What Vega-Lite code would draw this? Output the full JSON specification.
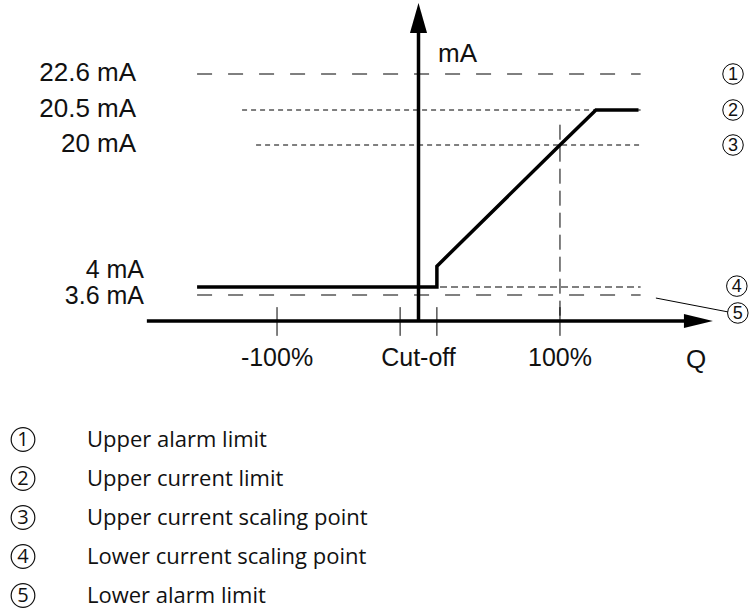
{
  "$schema": "https://vega.github.io/schema/vega-lite/v6.json",
  "padding": 0,
  "spacing": 0,
  "background": "white",
  "config": {
    "view": {"stroke": null},
    "axis": {"disable": true},
    "concat": {"spacing": 0},
    "text": {"font": "Liberation Sans", "color": "#111111"}
  },
  "datasets": {
    "limits": [
      {"n": 1, "label": "22.6 mA", "ma": 22.6, "from": -156.5, "to": 157, "name": "Upper alarm limit"},
      {"n": 2, "label": "20.5 mA", "ma": 20.5, "from": -124.7, "to": 157, "name": "Upper current limit"},
      {"n": 3, "label": "20 mA", "ma": 20, "from": -114.8, "to": 157, "name": "Upper current scaling point"},
      {"n": 4, "label": "4 mA", "ma": 4, "from": 15.2, "to": 157, "name": "Lower current scaling point"},
      {"n": 5, "label": "3.6 mA", "ma": 3.6, "from": -156.5, "to": 157, "name": "Lower alarm limit"}
    ],
    "curve": [
      {"i": 1, "q": -156.5, "ma": 4},
      {"i": 2, "q": 13, "ma": 4},
      {"i": 3, "q": 13, "ma": 6.35},
      {"i": 4, "q": 100, "ma": 20},
      {"i": 5, "q": 125.4, "ma": 20.5},
      {"i": 6, "q": 155.5, "ma": 20.5}
    ],
    "axes": [
      {"axis": "mA", "q0": 0, "m0": 3, "q1": 0, "m1": 24, "tipq": 0, "tipm": 25, "tq": 13.8, "tm": 23.29},
      {"axis": "Q", "q0": -192, "m0": 3, "q1": 189, "m1": 3, "tipq": 208.1, "tipm": 3, "tq": 189, "tm": 1.82}
    ],
    "ticks": [{"q": -100}, {"q": -13}, {"q": 13}, {"q": 100}],
    "ticklabels": [
      {"q": -100, "label": "-100%"},
      {"q": 0, "label": "Cut-off"},
      {"q": 100, "label": "100%"}
    ]
  },
  "vconcat": [
    {
      "width": 749,
      "height": 420,
      "layer": [
        {
          "data": {"name": "limits"},
          "transform": [{"filter": "datum.n == 1"}],
          "mark": {"type": "rule", "color": "black", "strokeWidth": 1, "strokeDash": [15, 16]},
          "encoding": {
            "x": {"field": "from", "type": "quantitative", "scale": {"domain": [-295.8, 233.6], "nice": false, "zero": false}},
            "x2": {"field": "to"},
            "y": {"field": "ma", "type": "quantitative", "scale": {"domain": [0, 3, 3.6, 4, 20, 20.5, 22.6, 25], "range": [420, 321, 295, 287, 145, 110, 74, 3], "nice": false, "zero": false}}
          }
        },
        {
          "data": {"name": "limits"},
          "transform": [{"filter": "datum.n == 2 || datum.n == 3"}],
          "mark": {"type": "rule", "color": "black", "strokeWidth": 1, "strokeDash": [5, 4]},
          "encoding": {
            "x": {"field": "from", "type": "quantitative"},
            "x2": {"field": "to"},
            "y": {"field": "ma", "type": "quantitative"}
          }
        },
        {
          "data": {"name": "limits"},
          "transform": [{"filter": "datum.n == 4"}],
          "mark": {"type": "rule", "color": "#808080", "strokeWidth": 2, "strokeDash": [7, 4]},
          "encoding": {
            "x": {"field": "from", "type": "quantitative"},
            "x2": {"field": "to"},
            "y": {"field": "ma", "type": "quantitative"}
          }
        },
        {
          "data": {"name": "limits"},
          "transform": [{"filter": "datum.n == 5"}],
          "mark": {"type": "rule", "color": "#808080", "strokeWidth": 2, "strokeDash": [15, 16]},
          "encoding": {
            "x": {"field": "from", "type": "quantitative"},
            "x2": {"field": "to"},
            "y": {"field": "ma", "type": "quantitative"}
          }
        },
        {
          "data": {"name": "ticks"},
          "transform": [{"filter": "datum.q == 100"}],
          "mark": {"type": "rule", "color": "black", "strokeWidth": 1, "strokeDash": [15, 7]},
          "encoding": {
            "x": {"field": "q", "type": "quantitative"},
            "y": {"datum": 20.29, "type": "quantitative"},
            "y2": {"datum": 3}
          }
        },
        {
          "data": {"name": "ticks"},
          "mark": {"type": "rule", "color": "black", "strokeWidth": 1},
          "encoding": {
            "x": {"field": "q", "type": "quantitative"},
            "y": {"datum": 3.32, "type": "quantitative"},
            "y2": {"datum": 2.55}
          }
        },
        {
          "data": {"name": "curve"},
          "mark": {"type": "line", "color": "black", "strokeWidth": 3.5, "strokeJoin": "miter", "strokeCap": "butt"},
          "encoding": {
            "x": {"field": "q", "type": "quantitative"},
            "y": {"field": "ma", "type": "quantitative"},
            "order": {"field": "i", "type": "quantitative"}
          }
        },
        {
          "data": {"name": "axes"},
          "mark": {"type": "rule", "color": "black", "strokeWidth": 3.5},
          "encoding": {
            "x": {"field": "q0", "type": "quantitative"},
            "x2": {"field": "q1"},
            "y": {"field": "m0", "type": "quantitative"},
            "y2": {"field": "m1"}
          }
        },
        {
          "data": {"name": "axes"},
          "transform": [{"filter": "datum.axis == 'mA'"}],
          "mark": {"type": "point", "shape": "M0,0L0.57,2L-0.57,2Z", "size": 900, "filled": true, "color": "black", "opacity": 1},
          "encoding": {
            "x": {"field": "tipq", "type": "quantitative"},
            "y": {"field": "tipm", "type": "quantitative"}
          }
        },
        {
          "data": {"name": "axes"},
          "transform": [{"filter": "datum.axis == 'Q'"}],
          "mark": {"type": "point", "shape": "M0,0L-2,0.48L-2,-0.48Z", "size": 841, "filled": true, "color": "black", "opacity": 1},
          "encoding": {
            "x": {"field": "tipq", "type": "quantitative"},
            "y": {"field": "tipm", "type": "quantitative"}
          }
        },
        {
          "data": {"name": "axes"},
          "mark": {"type": "text", "fontSize": 26, "align": "left", "baseline": "middle"},
          "encoding": {
            "x": {"field": "tq", "type": "quantitative"},
            "y": {"field": "tm", "type": "quantitative"},
            "text": {"field": "axis"}
          }
        },
        {
          "data": {"name": "ticklabels"},
          "mark": {"type": "text", "fontSize": 25, "align": "center", "baseline": "middle", "dy": 37},
          "encoding": {
            "x": {"field": "q", "type": "quantitative"},
            "y": {"datum": 3, "type": "quantitative"},
            "text": {"field": "label"}
          }
        },
        {
          "data": {"name": "limits"},
          "transform": [{"filter": "datum.n <= 3"}],
          "mark": {"type": "text", "fontSize": 26, "align": "right", "baseline": "middle", "dy": -1},
          "encoding": {
            "x": {"datum": -199.6, "type": "quantitative"},
            "y": {"field": "ma", "type": "quantitative"},
            "text": {"field": "label"}
          }
        },
        {
          "data": {"name": "limits"},
          "transform": [{"filter": "datum.n == 5"}],
          "mark": {"type": "text", "fontSize": 25, "align": "right", "baseline": "middle", "dy": 1},
          "encoding": {
            "x": {"datum": -194, "type": "quantitative"},
            "y": {"field": "ma", "type": "quantitative"},
            "text": {"field": "label"}
          }
        },
        {
          "data": {"name": "limits"},
          "transform": [{"filter": "datum.n == 4"}],
          "mark": {"type": "text", "fontSize": 25, "align": "right", "baseline": "middle", "dy": -17},
          "encoding": {
            "x": {"datum": -194, "type": "quantitative"},
            "y": {"field": "ma", "type": "quantitative"},
            "text": {"field": "label"}
          }
        },
        {
          "data": {"name": "limits"},
          "transform": [{"filter": "datum.n <= 3"}],
          "mark": {"type": "point", "shape": "circle", "size": 420, "filled": false, "color": "black", "strokeWidth": 1, "opacity": 1},
          "encoding": {
            "x": {"datum": 222.3, "type": "quantitative"},
            "y": {"field": "ma", "type": "quantitative"}
          }
        },
        {
          "data": {"name": "limits"},
          "transform": [{"filter": "datum.n <= 3"}],
          "mark": {"type": "text", "fontSize": 18, "align": "center", "baseline": "middle", "dy": 1},
          "encoding": {
            "x": {"datum": 222.3, "type": "quantitative"},
            "y": {"field": "ma", "type": "quantitative"},
            "text": {"field": "n"}
          }
        },
        {
          "data": {"name": "limits"},
          "transform": [{"filter": "datum.n == 4"}],
          "mark": {"type": "point", "shape": "circle", "size": 420, "filled": false, "color": "black", "strokeWidth": 1, "opacity": 1},
          "encoding": {
            "x": {"datum": 225, "type": "quantitative"},
            "y": {"datum": 4.1, "type": "quantitative"}
          }
        },
        {
          "data": {"name": "limits"},
          "transform": [{"filter": "datum.n == 4"}],
          "mark": {"type": "text", "fontSize": 18, "align": "center", "baseline": "middle", "dy": 1},
          "encoding": {
            "x": {"datum": 225, "type": "quantitative"},
            "y": {"datum": 4.1, "type": "quantitative"},
            "text": {"field": "n"}
          }
        },
        {
          "data": {"name": "limits"},
          "transform": [{"filter": "datum.n == 5"}],
          "mark": {"type": "rule", "color": "black", "strokeWidth": 1},
          "encoding": {
            "x": {"datum": 167.8, "type": "quantitative"},
            "x2": {"datum": 218.7},
            "y": {"datum": 3.53, "type": "quantitative"},
            "y2": {"datum": 3.21}
          }
        },
        {
          "data": {"name": "limits"},
          "transform": [{"filter": "datum.n == 5"}],
          "mark": {"type": "point", "shape": "circle", "size": 420, "filled": true, "fill": "white", "stroke": "black", "strokeWidth": 1, "opacity": 1},
          "encoding": {
            "x": {"datum": 225.7, "type": "quantitative"},
            "y": {"datum": 3.185, "type": "quantitative"}
          }
        },
        {
          "data": {"name": "limits"},
          "transform": [{"filter": "datum.n == 5"}],
          "mark": {"type": "text", "fontSize": 18, "align": "center", "baseline": "middle", "dy": 1},
          "encoding": {
            "x": {"datum": 225.7, "type": "quantitative"},
            "y": {"datum": 3.185, "type": "quantitative"},
            "text": {"field": "n"}
          }
        }
      ]
    },
    {
      "width": 749,
      "height": 195,
      "data": {"name": "limits"},
      "layer": [
        {
          "mark": {"type": "point", "shape": "circle", "size": 560, "filled": false, "color": "#111111", "strokeWidth": 1.2, "opacity": 1},
          "encoding": {
            "x": {"datum": 23, "type": "quantitative", "scale": {"domain": [0, 749], "nice": false, "zero": false}},
            "y": {"field": "n", "type": "ordinal", "scale": {"type": "point", "padding": 0.5}}
          }
        },
        {
          "mark": {"type": "text", "font": "Open Sans", "fontSize": 20, "align": "center", "baseline": "middle", "dy": 0},
          "encoding": {
            "x": {"datum": 23, "type": "quantitative"},
            "y": {"field": "n", "type": "ordinal"},
            "text": {"field": "n"}
          }
        },
        {
          "mark": {"type": "text", "font": "Open Sans", "fontSize": 22, "align": "left", "baseline": "middle", "dy": 0},
          "encoding": {
            "x": {"datum": 87, "type": "quantitative"},
            "y": {"field": "n", "type": "ordinal"},
            "text": {"field": "name"}
          }
        }
      ]
    }
  ]
}
